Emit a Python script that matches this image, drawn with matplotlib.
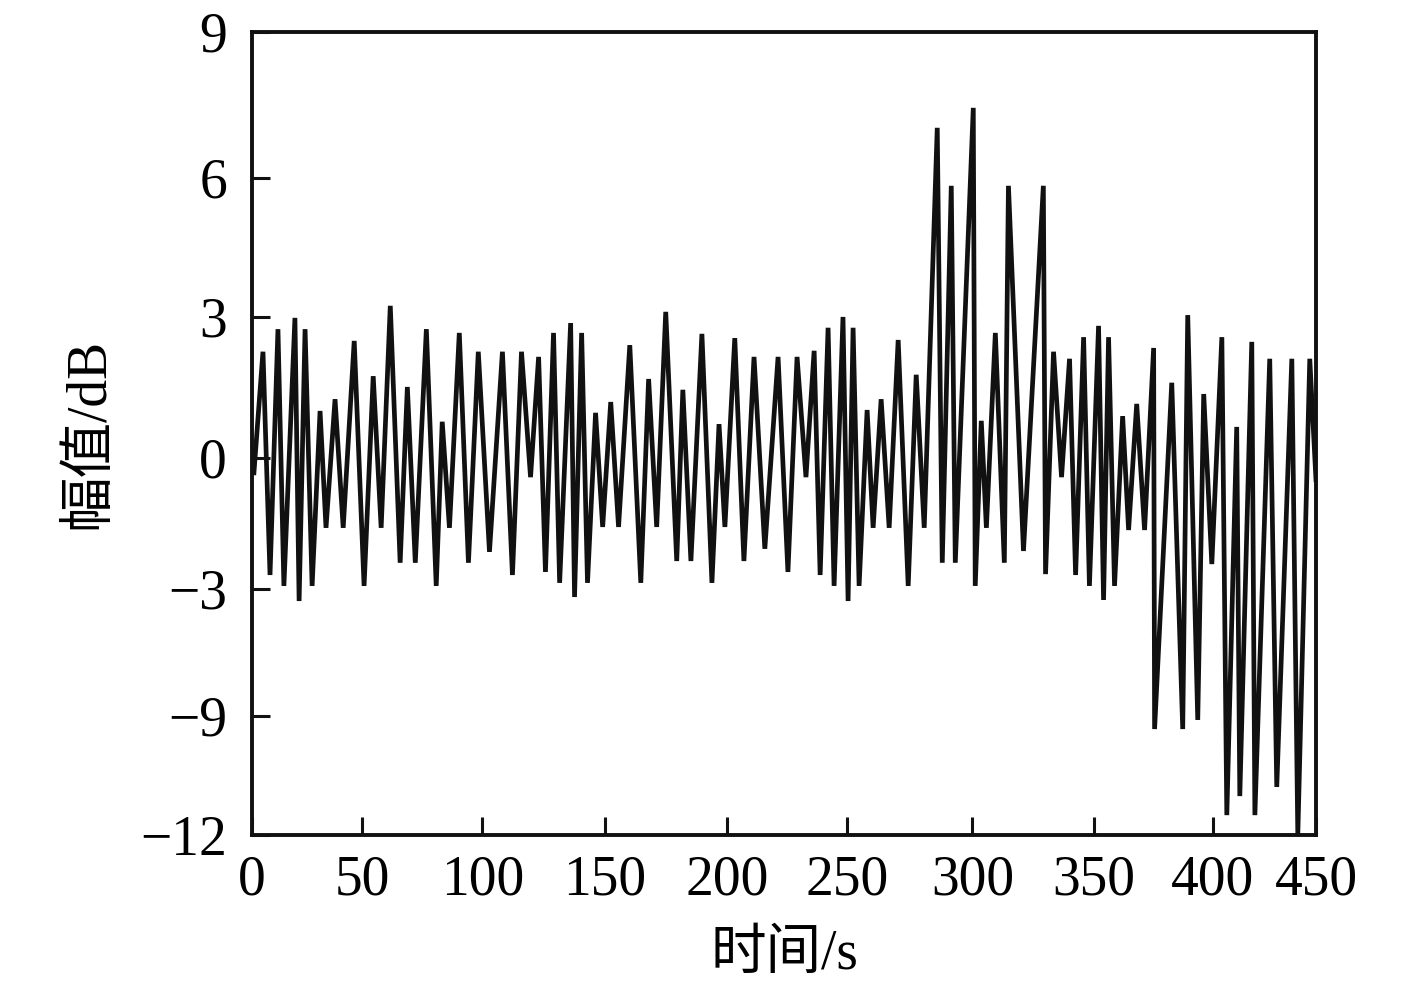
import numpy as np
import matplotlib
matplotlib.use('Agg')
import matplotlib.pyplot as plt

plt.rcParams['font.family'] = ['Liberation Serif', 'Noto Sans CJK SC']

# time (s) and amplitude (dB)
t = [0.9, 5.0, 8.2, 11.8, 14.5, 19.5, 21.4, 24.1, 27.3, 30.9,
     33.6, 37.7, 41.4, 46.4, 50.8, 54.6, 57.9, 61.7, 65.8, 68.8,
     72.1, 76.7, 80.8, 83.3, 86.3, 90.4, 94.2, 98.3, 102.9, 108.2,
     112.3, 116.0, 119.7, 123.0, 125.8, 129.1, 131.6, 136.1, 137.7, 140.6,
     143.0, 146.3, 149.2, 152.5, 155.7, 160.3, 164.8, 168.0, 171.3, 175.0,
     179.5, 182.0, 185.3, 189.8, 193.9, 196.8, 199.2, 203.3, 207.1, 211.3,
     215.8, 221.3, 225.4, 229.2, 232.9, 236.3, 238.8, 242.1, 244.6, 248.3,
     250.4, 252.4, 254.8, 258.0, 260.4, 263.6, 266.8, 270.4, 274.4, 277.6,
     280.8, 286.0, 288.0, 291.6, 293.2, 300.4, 301.2, 303.7, 305.8, 309.5,
     313.2, 314.9, 321.1, 329.3, 330.2, 333.5, 336.8, 340.1, 342.6, 345.9,
     348.3, 352.1, 354.2, 356.3, 358.8, 362.2, 364.7, 368.1, 371.4, 375.2,
     375.6, 382.8, 387.4, 389.5, 393.7, 396.2, 399.6, 404.4, 406.8, 411.6,
     413.1, 418.9, 420.4, 427.6, 431.0, 438.3, 441.2, 447.0, 450.0]
amp = [-0.34, 2.26, -2.68, 2.74, -2.93, 2.98, -3.57, 2.74, -2.93, 1.00,
       -1.60, 1.25, -1.60, 2.49, -2.93, 1.74, -1.60, 3.24, -2.40, 1.51,
       -2.40, 2.74, -2.93, 0.77, -1.60, 2.66, -2.40, 2.26, -2.15, 2.26,
       -2.68, 2.26, -0.44, 2.15, -2.61, 2.66, -2.86, 2.87, -3.38, 2.66,
       -2.86, 0.96, -1.58, 1.19, -1.58, 2.40, -2.86, 1.68, -1.58, 3.11,
       -2.36, 1.45, -2.36, 2.64, -2.86, 0.72, -1.58, 2.55, -2.36, 2.15,
       -2.08, 2.15, -2.61, 2.15, -0.44, 2.28, -2.68, 2.77, -2.93, 3.00,
       -3.57, 2.77, -2.93, 1.02, -1.60, 1.25, -1.60, 2.51, -2.93, 1.77,
       -1.60, 7.03, -2.40, 5.83, -2.40, 7.44, -2.93, 0.79, -1.60, 2.66,
       -2.40, 5.83, -2.13, 5.83, -2.66, 2.26, -0.44, 2.11, -2.68, 2.57,
       -2.93, 2.81, -3.52, 2.57, -2.93, 0.89, -1.65, 1.15, -1.65, 2.34,
       -9.33, 1.60, -9.33, 3.04, -9.10, 1.36, -2.43, 2.57, -11.50, 0.66,
       -11.02, 2.47, -11.50, 2.11, -10.79, 2.11, -12.00, 2.11, -0.50]

x_ticks = [0, 50, 100, 150, 200, 250, 300, 350, 400, 450]
y_ticks = [-12, -9, -3, 0, 3, 6, 9]
y_ticklabels = ['\u221212', '\u22129', '\u22123', '0', '3', '6', '9']

# the original axes are not evenly spaced, keep their relative spacing
x_spacing = [0, 110, 230, 352, 474, 594, 719, 840, 959, 1062]
y_spacing = [0, 119, 246, 377, 518, 657, 803]


def fx(v):
    return np.interp(v, x_ticks, x_spacing)


def fx_inv(u):
    return np.interp(u, x_spacing, x_ticks)


def fy(v):
    return np.interp(v, y_ticks, y_spacing)


def fy_inv(u):
    return np.interp(u, y_spacing, y_ticks)


fig = plt.figure(figsize=(14.17, 9.92), dpi=100)
ax = fig.add_axes([0.1778, 0.1583, 0.7509, 0.8095])
ax.set_xscale('function', functions=(fx, fx_inv))
ax.set_yscale('function', functions=(fy, fy_inv))

ax.plot(t, amp, color='#111111', linewidth=3.4, solid_joinstyle='miter')

ax.set_xlim(0, 450)
ax.set_ylim(-12, 9)
ax.set_xticks(x_ticks)
ax.set_xticklabels([str(v) for v in x_ticks])
ax.set_yticks(y_ticks)
ax.set_yticklabels(y_ticklabels)
ax.minorticks_off()

ax.tick_params(direction='in', length=13, width=2.2, labelsize=40,
               top=False, right=False, color='#111111')
ax.tick_params(axis='x', pad=14)
ax.tick_params(axis='y', pad=18)
for s in ax.spines.values():
    s.set_linewidth(2.8)
    s.set_color('#111111')

ax.set_xlabel('时间/s', fontsize=40, labelpad=16)
ax.set_ylabel('幅值/dB', fontsize=40, labelpad=18)

fig.savefig('out.png', dpi=100)
